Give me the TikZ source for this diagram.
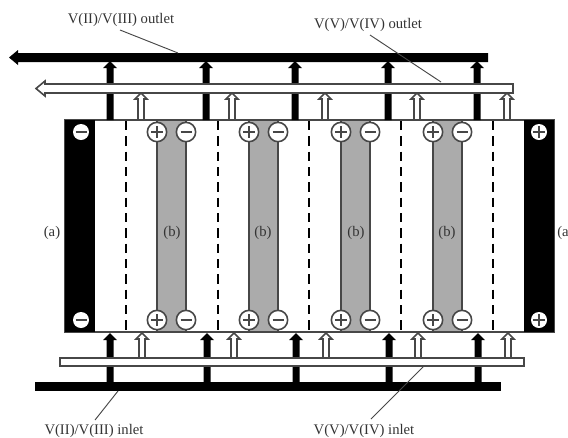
\documentclass[tikz,border=0pt]{standalone}
\usepackage{fontspec}
\setmainfont{Liberation Serif}
\usetikzlibrary{calc}
\definecolor{ink}{gray}{0}
\definecolor{mem}{gray}{0.67}
\definecolor{rim}{gray}{0.28}
\tikzset{
  lab/.style={font=\fontsize{11pt}{13pt}\selectfont,text=black!80,inner sep=0pt},
  leader/.style={draw=rim,line width=0.7pt},
  wpipe/.style={draw=rim,fill=white,line width=1.2pt},
  bpipe/.style={fill=ink},
  dashline/.style={draw=ink,line width=1.9pt,dash pattern=on 7pt off 4.5pt},
  memb/.style={draw=rim,fill=mem,line width=1.4pt},
  sign/.style={circle,draw=rim,fill=white,line width=1.2pt,minimum size=14.5pt,inner sep=0pt},
  esign/.style={circle,fill=white,minimum size=12pt,inner sep=0pt},
}
\newcommand{\blackup}[3]{% x, bottom, tip
  \fill[ink] (#1-3.5,#2) -- (#1-3.5,#3+7) -- (#1-7,#3+7) -- (#1,#3) -- (#1+7,#3+7) -- (#1+3.5,#3+7) -- (#1+3.5,#2) -- cycle;}
\newcommand{\whiteup}[3]{%
  \filldraw[draw=rim,fill=white,line width=1.2pt] (#1-3,#2) -- (#1-3,#3+6) -- (#1-6,#3+6) -- (#1,#3) -- (#1+6,#3+6) -- (#1+3,#3+6) -- (#1+3,#2) -- cycle;}
\newcommand{\plusmark}[1]{\draw[rim,line width=0.9pt] ($(#1)+(-6,0)$) -- ($(#1)+(6,0)$) ($(#1)+(0,-6)$) -- ($(#1)+(0,6)$);}
\newcommand{\minusmark}[1]{\draw[rim,line width=1.6pt] ($(#1)+(-5.5,0)$) -- ($(#1)+(5.5,0)$);}
\begin{document}
\begin{tikzpicture}[x=0.75pt,y=-0.75pt]
\useasboundingbox (0,0) rectangle (568,437);
% cell
\draw[draw=rim,fill=white,line width=1.2pt] (65,120) rectangle (554,332);
% membranes
\foreach \xa/\xb in {157/186,249/278,341/370,433/462}{
  \path[memb] (\xa,120) rectangle (\xb,332);
}
% dashed separators
\foreach \x in {126,218,309,401,493}{
  \draw[dashline] (\x,121) -- (\x,331);
}
% end electrodes
\fill[ink] (65,120) rectangle (95,332);
\fill[ink] (524,120) rectangle (554,332);
% membrane signs
\foreach \n/\xa/\xb in {1/157/186,2/249/278,3/341/370,4/433/462}{
  \node[sign] (pt\n) at (\xa,132) {};
  \node[sign] (mt\n) at (\xb,132) {};
  \node[sign] (pb\n) at (\xa,320) {};
  \node[sign] (mb\n) at (\xb,320) {};
  \plusmark{pt\n}\minusmark{mt\n}\plusmark{pb\n}\minusmark{mb\n}
}
\node[esign] (e1) at (81,132) {};
\node[esign] (e2) at (81,320) {};
\node[esign] (e3) at (539,132) {};
\node[esign] (e4) at (539,320) {};
\minusmark{e1}\minusmark{e2}\plusmark{e3}\plusmark{e4}
% top arrows
\foreach \x in {110,206,295,388,477}{\blackup{\x}{120}{61}}
\foreach \x in {141,232,325,417,507}{\whiteup{\x}{120}{93}}
% top pipes
\fill[bpipe] (488,53) -- (18,53) -- (18,50) -- (9,57.5) -- (18,65) -- (18,62) -- (488,62) -- cycle;
\filldraw[wpipe] (513,84) -- (45,84) -- (45,81) -- (36,88.5) -- (45,96) -- (45,93) -- (513,93) -- cycle;
% bottom arrows
\foreach \x in {110,207,296,389,478}{\blackup{\x}{383}{333}}
\foreach \x in {142,234,326,418,508}{\whiteup{\x}{358}{333}}
% bottom pipes
\draw[wpipe] (60,358) rectangle (524,366);
\fill[bpipe] (35,382) rectangle (501,391);
% labels
\node[lab,anchor=base] (t1) at (121,23) {V(II)/V(III) outlet};
\node[lab,anchor=base] (t2) at (368,28) {V(V)/V(IV) outlet};
\node[lab,anchor=base] (t3) at (94,434.5) {V(II)/V(III) inlet};
\node[lab,anchor=base] (t4) at (364,434.5) {V(V)/V(IV) inlet};
\coordinate (c1) at (178,53);
\coordinate (c2) at (441,82);
\coordinate (c3) at (118,391);
\coordinate (c4) at (424,366);
\draw[leader] (120,30) -- (c1);
\draw[leader] (370,35) -- (c2);
\draw[leader] (95,420) -- (c3);
\draw[leader] (371,419) -- (c4);
\node[lab,anchor=base] (a1) at (52,236) {(a)};
\node[lab,anchor=base west] (a2) at (557,236) {(a};
\foreach \n/\x in {1/172,2/263,3/356,4/447}{\node[lab,anchor=base] (b\n) at (\x,236) {(b)};}
\end{tikzpicture}
\end{document}
